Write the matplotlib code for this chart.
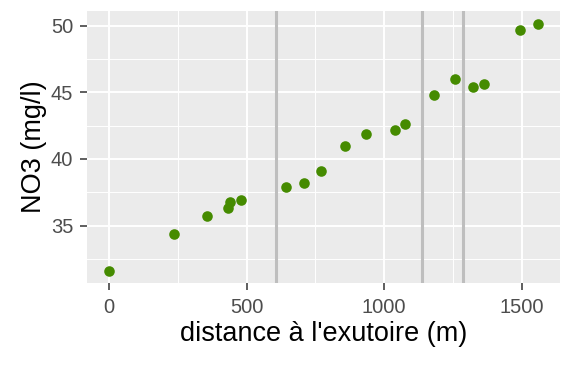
import matplotlib
matplotlib.use("Agg")
import matplotlib.pyplot as plt
from matplotlib.ticker import MultipleLocator

plt.rcParams['font.family'] = ['Liberation Sans', 'DejaVu Sans']

distance = [0, 236, 358, 432, 439, 480, 642, 710, 771, 857, 933, 1040, 1076,
            1182, 1257, 1324, 1365, 1494, 1561]
no3 = [31.6, 34.4, 35.7, 36.3, 36.8, 36.9, 37.9, 38.2, 39.1, 41.0, 41.9, 42.2,
       42.65, 44.8, 46.0, 45.4, 45.6, 49.7, 50.15]
vlines = [606, 1139, 1288]
xticks = [0, 500, 1000, 1500]
yticks = [35, 40, 45, 50]

fig = plt.figure(figsize=(5.63, 3.66), dpi=100)
ax = fig.add_axes([87/563, (366-283)/366, (560-87)/563, (283-11)/366])
ax.set_facecolor('#EBEBEB')
for s in ax.spines.values():
    s.set_visible(False)

ax.set_xlim(-80, 1640)
ax.set_ylim(30.7, 51.1)
ax.set_xticks(xticks)
ax.set_yticks(yticks)
ax.xaxis.set_minor_locator(MultipleLocator(250))
ax.yaxis.set_minor_locator(MultipleLocator(2.5))
ax.grid(which='major', color='white', linewidth=1.4)
ax.grid(which='minor', color='white', linewidth=0.7)
ax.set_axisbelow(True)
ax.tick_params(which='minor', length=0)
ax.tick_params(which='major', length=5, width=1.1, color='#333333',
               labelsize=14.5, labelcolor='#4D4D4D')
ax.tick_params(axis='x', pad=6)
ax.tick_params(axis='y', pad=5)

for v in vlines:
    ax.axvline(v, color='#BEBEBE', linewidth=2.2, zorder=2)

ax.scatter(distance, no3, s=58, color='#458B00', zorder=3, linewidths=0)

ax.set_xlabel("distance à l'exutoire (m)", fontsize=19.5, color='black', labelpad=3)
ax.set_ylabel("NO3 (mg/l)", fontsize=19.5, color='black', labelpad=3)

fig.savefig('out.png', dpi=100)
